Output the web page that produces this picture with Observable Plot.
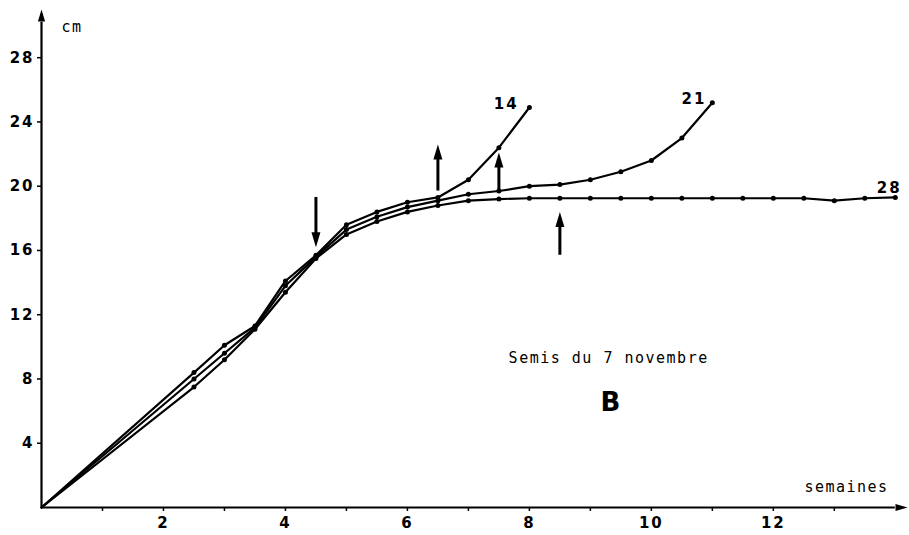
<!DOCTYPE html>
<html><head><meta charset="utf-8">
<script src="https://cdn.jsdelivr.net/npm/d3@7"></script>
<script src="https://cdn.jsdelivr.net/npm/@observablehq/plot@0.6"></script>
<style>
body{margin:0;background:#fff;}
svg{display:block}
g[aria-label$="tick label"] text, g.wide text {letter-spacing:2px}
g.mono text {letter-spacing:1.5px}
</style></head><body><div id="chart"></div>
<script>
// Series (weeks, height in cm)
const weeks14 = [0, 2.5, 3, 3.5, 4, 4.5, 5, 5.5, 6, 6.5, 7, 7.5, 8];
const cm14    = [0, 8.4, 10.1, 11.3, 14.1, 15.7, 17.6, 18.4, 19.0, 19.3, 20.4, 22.4, 24.9];
const weeks21 = [0, 2.5, 3, 3.5, 4, 4.5, 5, 5.5, 6, 6.5, 7, 7.5, 8, 8.5, 9, 9.5, 10, 10.5, 11];
const cm21    = [0, 8.0, 9.6, 11.2, 13.8, 15.6, 17.3, 18.1, 18.7, 19.1, 19.5, 19.7, 20.0, 20.1, 20.4, 20.9, 21.6, 23.0, 25.2];
const weeks28 = [0, 2.5, 3, 3.5, 4, 4.5, 5, 5.5, 6, 6.5, 7, 7.5, 8, 8.5, 9, 9.5, 10, 10.5, 11, 11.5, 12, 12.5, 13, 13.5, 14];
const cm28    = [0, 7.5, 9.2, 11.1, 13.4, 15.5, 17.0, 17.8, 18.4, 18.8, 19.1, 19.2, 19.25, 19.25, 19.25, 19.25, 19.25, 19.25, 19.25, 19.25, 19.25, 19.25, 19.1, 19.25, 19.3];
// Arrows (week, tail cm, head cm)
const arrowWeeks = [4.5, 6.5, 7.5, 8.5];
const arrowFrom  = [19.3, 19.7, 19.7, 15.7];
const arrowTo    = [16.2, 22.6, 22.1, 18.4];
// Tick labels
const yTicks = [4, 8, 12, 16, 20, 24, 28];
const xTicks = [1, 2, 3, 4, 5, 6, 7, 8, 9, 10, 11, 12, 13];
const seriesNames = ["14", "21", "28"];

const toRows = (ws, cs) => ws.map((w, i) => ({x: w, y: cs[i]}));
const s14 = toRows(weeks14, cm14), s21 = toRows(weeks21, cm21), s28 = toRows(weeks28, cm28);
const arrows = arrowWeeks.map((w, i) => ({x: w, from: arrowFrom[i], to: arrowTo[i]}));
const up = arrows.filter(a => a.to > a.from), down = arrows.filter(a => a.to < a.from);

// custom symbols with tip at origin
const headUp = {draw(ctx, size) { const r = Math.sqrt(size / Math.PI); ctx.moveTo(0, 0); ctx.lineTo(0.9 * r, 3 * r); ctx.lineTo(-0.9 * r, 3 * r); ctx.closePath(); }};
const headDown = {draw(ctx, size) { const r = Math.sqrt(size / Math.PI); ctx.moveTo(0, 0); ctx.lineTo(0.9 * r, -3 * r); ctx.lineTo(-0.9 * r, -3 * r); ctx.closePath(); }};
const headRight = {draw(ctx, size) { const r = Math.sqrt(size / Math.PI); ctx.moveTo(0, 0); ctx.lineTo(-3 * r, 0.9 * r); ctx.lineTo(-3 * r, -0.9 * r); ctx.closePath(); }};

const font = "DejaVu Sans";
const mono = "DejaVu Sans Mono";

const chart = Plot.plot({
  width: 909, height: 535,
  marginLeft: 41, marginRight: 2, marginTop: 9, marginBottom: 28,
  x: {domain: [0, 14.2]},
  y: {domain: [0, 31]},
  style: {fontFamily: font, color: "#000", background: "#fff"},
  marks: [
    Plot.ruleY([0], {x1: 0, x2: 14.0, strokeWidth: 2.2}),
    Plot.ruleX([0], {y1: 0, y2: 30.2, strokeWidth: 2.2}),
    Plot.dot([{x: 14.2, y: 0}], {x: "x", y: "y", symbol: headRight, r: 4, fill: "#000", stroke: null}),
    Plot.dot([{x: 0, y: 31}], {x: "x", y: "y", symbol: headUp, r: 4, fill: "#000", stroke: null}),
    Plot.axisY(yTicks, {label: null, tickSize: 4, tickPadding: 3, fontSize: 15, fontWeight: "bold", fontFamily: font, strokeWidth: 1.5}),
    Plot.axisX(xTicks, {label: null, tickSize: 4, tickPadding: 6, fontSize: 15, fontWeight: "bold", fontFamily: font, strokeWidth: 1.5,
      tickFormat: d => d % 2 === 0 ? String(d) : ""}),
    Plot.line(s28, {x: "x", y: "y", strokeWidth: 2.2, stroke: "#000"}),
    Plot.line(s21, {x: "x", y: "y", strokeWidth: 2.2, stroke: "#000"}),
    Plot.line(s14, {x: "x", y: "y", strokeWidth: 2.2, stroke: "#000"}),
    Plot.dot(s28.slice(1), {x: "x", y: "y", r: 2.5, fill: "#000", stroke: null}),
    Plot.dot(s21.slice(1), {x: "x", y: "y", r: 2.5, fill: "#000", stroke: null}),
    Plot.dot(s14.slice(1), {x: "x", y: "y", r: 2.5, fill: "#000", stroke: null}),
    Plot.ruleX(up, {x: "x", y1: "from", y2: d => d.to - 0.6, strokeWidth: 3}),
    Plot.ruleX(down, {x: "x", y1: "from", y2: d => d.to + 0.6, strokeWidth: 3}),
    Plot.dot(up, {x: "x", y: "to", symbol: headUp, r: 5, fill: "#000", stroke: null}),
    Plot.dot(down, {x: "x", y: "to", symbol: headDown, r: 5, fill: "#000", stroke: null}),
    Plot.text([seriesNames[0]], {x: 7.62, y: 25.1, text: d => d, fontSize: 15, fontWeight: "bold", className: "wide"}),
    Plot.text([seriesNames[1]], {x: 10.7, y: 25.4, text: d => d, fontSize: 15, fontWeight: "bold", className: "wide"}),
    Plot.text([seriesNames[2]], {x: 13.9, y: 19.9, text: d => d, fontSize: 15, fontWeight: "bold", className: "wide"}),
    Plot.text(["cm"], {x: 0.5, y: 29.9, text: d => d, fontSize: 15, fontFamily: mono, className: "mono"}),
    Plot.text(["semaines"], {x: 13.2, y: 1.25, text: d => d, fontSize: 15, fontFamily: mono, className: "mono"}),
    Plot.text(["Semis du 7 novembre"], {x: 9.3, y: 9.3, text: d => d, fontSize: 15, fontFamily: mono, className: "mono"}),
    Plot.text(["B"], {x: 9.33, y: 6.5, text: d => d, fontSize: 26, fontWeight: "bold"})
  ]
});
document.getElementById("chart").appendChild(chart);
</script></body></html>
